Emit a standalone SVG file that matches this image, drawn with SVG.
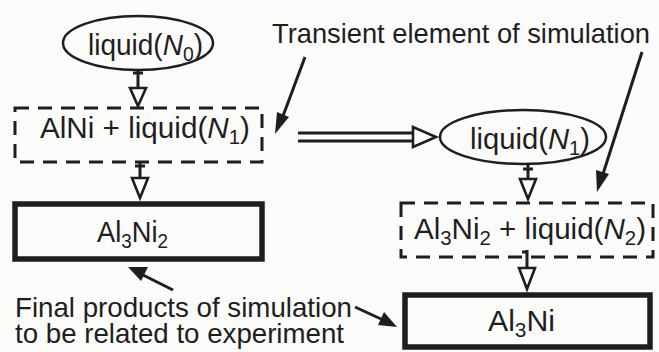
<svg xmlns="http://www.w3.org/2000/svg" width="659" height="352" viewBox="0 0 659 352">
<style>
text{font-family:"Liberation Sans",Arial,sans-serif;font-size:29px;fill:#1e1e1e}
.lab{font-size:28.5px}
.top{font-size:27.5px}
.sub{font-size:20px}
.it{font-style:italic}
.ell{fill:none;stroke:#1e1e1e;stroke-width:2.5}
.dash{fill:none;stroke:#1e1e1e;stroke-width:3;stroke-dasharray:14 9}
.solid{fill:none;stroke:#1e1e1e;stroke-width:5.5}
.ln{stroke:#1e1e1e;stroke-width:3;fill:none}
.tri{fill:#fff;stroke:#1e1e1e;stroke-width:2.6;stroke-linejoin:miter}
.ptr{stroke:#1e1e1e;stroke-width:3;fill:none}
.head{fill:#1e1e1e}
</style>
<rect width="659" height="352" fill="#fbfbfa"/>
<g id="connectors">
  <line class="ln" x1="138" y1="70" x2="138" y2="88"/>
  <line class="ln" x1="133" y1="73" x2="143" y2="73"/>
  <polygon class="tri" points="130,88 146,88 138,106"/>
  <line class="ln" x1="140" y1="162" x2="140" y2="178"/>
  <line class="ln" x1="135" y1="166" x2="145" y2="166"/>
  <polygon class="tri" points="132,178 148,178 140,198"/>
  <line class="ln" x1="298" y1="133" x2="413" y2="133"/>
  <line class="ln" x1="298" y1="141" x2="413" y2="141"/>
  <polygon class="tri" points="413,127 413,147 436,137"/>
  <line class="ln" x1="528" y1="164" x2="528" y2="179"/>
  <line class="ln" x1="523" y1="169" x2="533" y2="169"/>
  <polygon class="tri" points="520,179 536,179 528,199"/>
  <line class="ln" x1="527" y1="250" x2="527" y2="268"/>
  <line class="ln" x1="522" y1="252" x2="527" y2="252"/>
  <polygon class="tri" points="519,268 535,268 527,289"/>
  <line class="ptr" x1="305" y1="57" x2="283" y2="116"/>
  <polygon class="head" points="275,134 277,112 289,117"/>
  <line class="ptr" x1="642" y1="52" x2="603" y2="174"/>
  <polygon class="head" points="597,192 596,170 609,174"/>
  <line class="ptr" x1="173" y1="290" x2="143" y2="275"/>
  <polygon class="head" points="128,267 148,267 141,281"/>
  <line class="ptr" x1="355" y1="307" x2="381" y2="319"/>
  <polygon class="head" points="397,327 384,312 378,325"/>
</g>
<g id="n-liquid0">
  <ellipse class="ell" cx="138" cy="43" rx="75" ry="27"/>
  <text x="88" y="55" textLength="115" lengthAdjust="spacingAndGlyphs">liquid(<tspan class="it">N</tspan><tspan class="sub" dy="6">0</tspan><tspan dy="-6">)</tspan></text>
</g>
<g id="n-alni-liquid1">
  <rect class="dash" x="15" y="108" width="247" height="54"/>
  <text x="40" y="138" textLength="210" lengthAdjust="spacingAndGlyphs">AlNi  +  liquid(<tspan class="it">N</tspan><tspan class="sub" dy="6">1</tspan><tspan dy="-6">)</tspan></text>
</g>
<g id="n-al3ni2">
  <rect class="solid" x="15" y="204" width="247" height="55"/>
  <text x="97" y="242" textLength="71" lengthAdjust="spacingAndGlyphs">Al<tspan class="sub" dy="6">3</tspan><tspan dy="-6">Ni</tspan><tspan class="sub" dy="6">2</tspan></text>
</g>
<g id="n-liquid1">
  <ellipse class="ell" cx="523" cy="137" rx="83" ry="27"/>
  <text x="470" y="149" textLength="120" lengthAdjust="spacingAndGlyphs">liquid(<tspan class="it">N</tspan><tspan class="sub" dy="6">1</tspan><tspan dy="-6">)</tspan></text>
</g>
<g id="n-al3ni2-liquid2">
  <rect class="dash" x="401" y="203" width="252" height="54"/>
  <text x="414" y="239" textLength="232" lengthAdjust="spacingAndGlyphs">Al<tspan class="sub" dy="6">3</tspan><tspan dy="-6">Ni</tspan><tspan class="sub" dy="6">2</tspan><tspan dy="-6"> + liquid(</tspan><tspan class="it">N</tspan><tspan class="sub" dy="6">2</tspan><tspan dy="-6">)</tspan></text>
</g>
<g id="n-al3ni">
  <rect class="solid" x="405" y="295" width="245" height="52"/>
  <text x="488" y="331" textLength="67" lengthAdjust="spacingAndGlyphs">Al<tspan class="sub" dy="6">3</tspan><tspan dy="-6">Ni</tspan></text>
</g>
<g id="labels">
  <text class="top" x="272" y="43" textLength="378" lengthAdjust="spacingAndGlyphs">Transient element of simulation</text>
  <text class="lab" x="15" y="317" textLength="337" lengthAdjust="spacingAndGlyphs">Final products of simulation</text>
  <text class="lab" x="15" y="343" textLength="329" lengthAdjust="spacingAndGlyphs">to be related to experiment</text>
</g>
</svg>
